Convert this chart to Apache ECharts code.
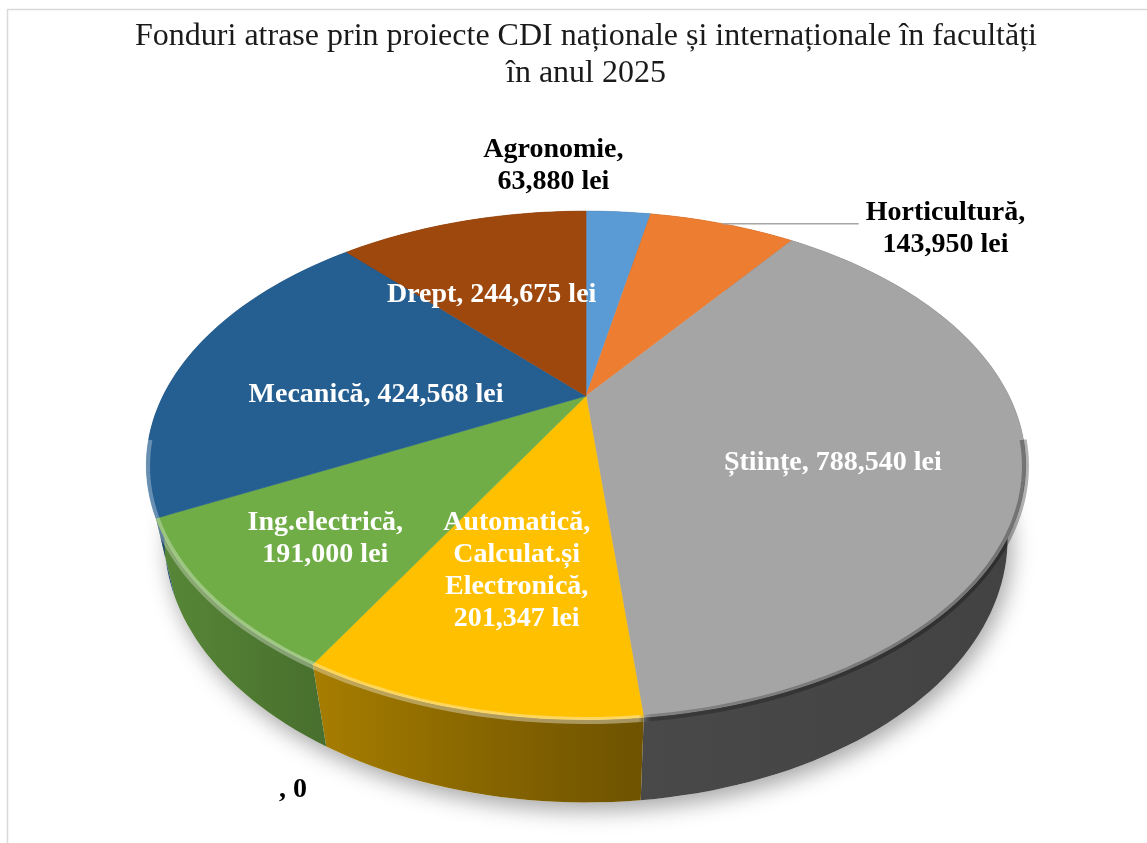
<!DOCTYPE html>
<html>
<head>
<meta charset="utf-8">
<title>Fonduri CDI 2025</title>
<script src="https://cdn.jsdelivr.net/npm/echarts@6/dist/echarts.min.js"></script>
<style>
  html, body { margin: 0; padding: 0; background: #fff; }
  #chart { width: 1147px; height: 843px; }
</style>
</head>
<body>
<div id="chart"></div>
<script>
const categories = ['Agronomie', 'Horticultură', 'Științe', 'Automatică, Calculat.și Electronică', 'Ing.electrică', 'Mecanică', 'Drept', '']
const values = [63880, 143950, 788540, 201347, 191000, 424568, 244675, 0]
const colors = ['#5B9BD5', '#ED7D31', '#A5A5A5', '#FFC000', '#70AD47', '#255E91', '#9E480E', '#636363']

// how Excel laid the data labels out
const wrapLabel = [true, true, false, true, true, false, false, false]
const outsideLabel = [true, true, false, false, false, false, false, true]
const withLeader = [false, true, false, false, false, false, false, false]
const labelNudge = [[-65, -46], [223, 5], [-9, 28], [-7, 10], [-54, 33], [33, 23], [-14, 13], [-293, 579]]

const FONT = '"Liberation Serif", "Times New Roman", serif'

const total = values.reduce((s, v) => s + v, 0)
const starts = []
values.reduce((acc, v) => { starts.push(acc); return acc + v }, 0)

// 3d view of the disc (perspective like excel's 3-D pie)
const CX = 586, CY = 396, R = 423, H = 92, FOCAL = 1289
const ELEV = 33.8 * Math.PI / 180
const SIN_E = Math.sin(ELEV), COS_E = Math.cos(ELEV)

// x to the right, z away from the viewer, h up
function project(x, z, h) {
  const s = FOCAL / (FOCAL + z * COS_E - h * SIN_E)
  return [CX + x * s, CY - (h * COS_E + z * SIN_E) * s]
}
function polar(deg, frac, h) {
  const a = deg * Math.PI / 180
  return project(frac * R * Math.sin(a), frac * R * Math.cos(a), h)
}
function arc(a0, a1, h) {
  const n = Math.max(2, Math.ceil((a1 - a0) / 1.5))
  const pts = []
  for (let k = 0; k <= n; k++) pts.push(polar(a0 + (a1 - a0) * k / n, 1, h))
  return pts
}
function angles(i, v) {
  return [starts[i] / total * 360, (starts[i] + v) / total * 360]
}

function shade(hex, f) {
  const n = parseInt(hex.slice(1), 16)
  const c = [(n >> 16) & 255, (n >> 8) & 255, n & 255].map(x => Math.round(x * f))
  return 'rgb(' + c.join(',') + ')'
}
function wallFill(hex) {
  const stops = [[0, 0.8], [0.1, 0.72], [0.2, 0.65], [0.4, 0.52], [0.55, 0.44], [1, 0.4]]
  return {
    type: 'linear', x: 140, y: 0, x2: 1030, y2: 0, global: true,
    colorStops: stops.map(([o, f]) => ({ offset: o, color: shade(hex, f) }))
  }
}
// bevel on the front rim: light on the left, shadowed on the right
const rimStroke = {
  type: 'linear', x: 140, y: 0, x2: 1030, y2: 0, global: true,
  colorStops: [
    { offset: 0, color: 'rgba(255,255,255,0.30)' },
    { offset: 0.56, color: 'rgba(255,255,255,0.38)' },
    { offset: 0.575, color: 'rgba(0,0,0,0.22)' },
    { offset: 1, color: 'rgba(0,0,0,0.30)' }
  ]
}

function labelText(i) {
  const text = categories[i] + ', ' + (values[i] ? values[i].toLocaleString('en-US') + ' lei' : '0')
  return wrapLabel[i] ? text.replace(/ (?!lei)/g, '\n') : text
}

const measure = document.createElement('canvas').getContext('2d')
measure.font = 'bold 28px ' + FONT

const chart = echarts.init(document.getElementById('chart'))

const option = {
  animation: false,
  title: {
    text: 'Fonduri atrase prin proiecte CDI naționale și internaționale în facultăți\nîn anul 2025',
    left: 581,
    top: 13,
    textAlign: 'center',
    textStyle: {
      fontFamily: FONT,
      fontSize: 32,
      fontWeight: 'normal',
      color: '#1a1a1a',
      lineHeight: 37
    }
  },
  graphic: [{
    type: 'rect',
    silent: true,
    shape: { x: 7.5, y: 9.5, width: 1300, height: 1000 },
    style: { fill: null, stroke: '#d9d9d9', lineWidth: 1.5 }
  }],
  series: [
    {
      // side walls
      type: 'custom',
      coordinateSystem: 'none',
      silent: true,
      z: 1,
      data: values,
      renderItem: (params, api) => {
        const i = params.dataIndex
        const v = api.value(0)
        const children = []
        if (i === 0) {
          // soft shadow under the whole pie
          children.push({
            type: 'polygon',
            z2: -10,
            shape: { points: arc(0, 360, -H) },
            style: { fill: '#fff', shadowBlur: 22, shadowColor: 'rgba(0,0,0,0.35)', shadowOffsetX: 4, shadowOffsetY: 8 }
          })
        }
        if (v) {
          const [a0, a1] = angles(i, v)
          children.push({
            type: 'polygon',
            shape: { points: arc(a0, a1, 0).concat(arc(a0, a1, -H).reverse()) },
            style: { fill: wallFill(colors[i]) }
          })
        }
        return { type: 'group', children }
      }
    },
    {
      // top faces and labels
      type: 'custom',
      coordinateSystem: 'none',
      silent: true,
      z: 2,
      data: values,
      renderItem: (params, api) => {
        const i = params.dataIndex
        const v = api.value(0)
        const [a0, a1] = angles(i, v)
        const children = []
        if (v) {
          children.push({
            type: 'polygon',
            shape: { points: [project(0, 0, 0)].concat(arc(a0, a1, 0)) },
            style: { fill: colors[i], stroke: colors[i], lineWidth: 0.6 }
          })
          // only the front rim, where the wall shows
          const r0 = Math.max(a0, 100), r1 = Math.min(a1, 260)
          if (r1 > r0) {
            children.push({
              type: 'polyline',
              z2: 4,
              shape: { points: arc(r0, r1, -1) },
              style: { fill: 'none', stroke: rimStroke, lineWidth: 7 }
            })
          }
        }
        const anchor = polar((a0 + a1) / 2, outsideLabel[i] ? 1 : 0.6, 0)
        const x = anchor[0] + labelNudge[i][0]
        const y = anchor[1] + labelNudge[i][1]
        const text = labelText(i)
        children.push({
          type: 'text',
          x, y, z2: 10,
          style: {
            text,
            fill: outsideLabel[i] ? '#000' : '#fff',
            fontFamily: FONT,
            fontSize: 28,
            fontWeight: 'bold',
            lineHeight: 32,
            align: 'center',
            verticalAlign: 'middle'
          }
        })
        if (withLeader[i]) {
          const half = measure.measureText(text.split('\n')[0]).width / 2
          children.push({
            type: 'polyline',
            z2: 10,
            shape: { points: [anchor, [x - half - 7, anchor[1]]] },
            style: { fill: 'none', stroke: '#a6a6a6', lineWidth: 1.5 }
          })
        }
        return { type: 'group', children }
      }
    }
  ]
}

chart.setOption(option)
</script>
</body>
</html>
